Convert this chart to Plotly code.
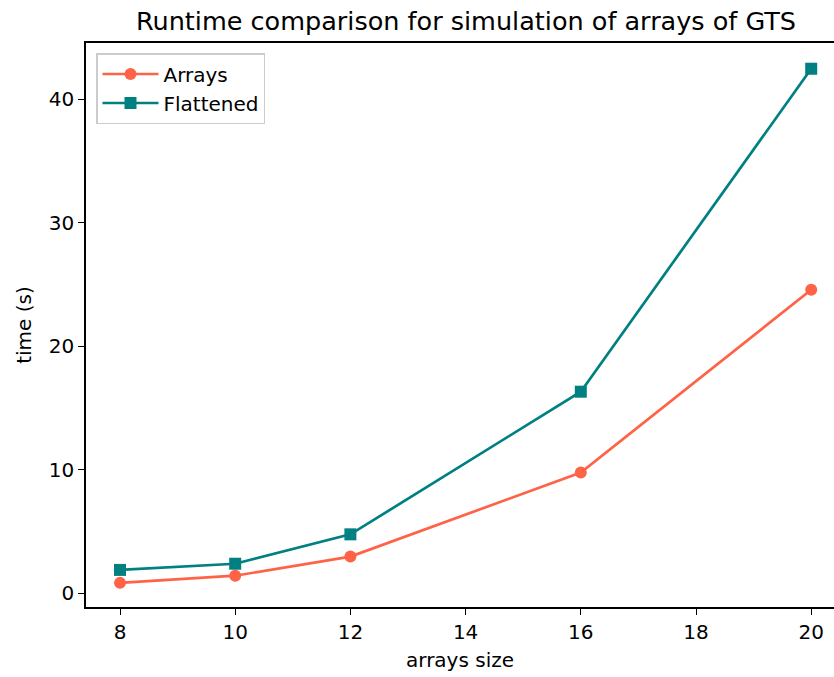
import plotly.graph_objects as go

sizes = [8, 10, 12, 16, 20]
arrays_time = [0.82, 1.40, 2.95, 9.75, 24.55]
flattened_time = [1.87, 2.37, 4.75, 16.3, 42.45]
x_ticks = [8, 10, 12, 14, 16, 18, 20]
y_ticks = [0, 10, 20, 30, 40]

FONT = "DejaVu Sans, Liberation Sans, sans-serif"

fig = go.Figure()
fig.add_trace(go.Scatter(
    x=sizes, y=arrays_time, mode="lines+markers", name="Arrays",
    line=dict(color="#FF6347", width=2.7),
    marker=dict(symbol="circle", size=12, color="#FF6347"),
))
fig.add_trace(go.Scatter(
    x=sizes, y=flattened_time, mode="lines+markers", name="Flattened",
    line=dict(color="#008080", width=2.7),
    marker=dict(symbol="square", size=12, color="#008080"),
))

fig.update_layout(
    width=834, height=677,
    margin=dict(l=86, r=0, t=43, b=70),
    paper_bgcolor="white", plot_bgcolor="white",
    font=dict(family=FONT, size=19, color="black"),
    title=dict(text="Runtime comparison for simulation of arrays of GTS",
               x=466 / 834, xanchor="center", y=1 - 21 / 677, yanchor="middle",
               font=dict(size=25.5, family=FONT, color="black")),
    showlegend=True,
    legend=dict(x=(96 - 86) / 748, y=1 - (53 - 43) / 564,
                xanchor="left", yanchor="top",
                bgcolor="rgba(255,255,255,0.8)", bordercolor="#cccccc", borderwidth=1.5,
                font=dict(size=20, family=FONT, color="black"),
                itemwidth=56, tracegroupgap=0),
)

fig.update_xaxes(
    range=[8 - 34 / 57.6, 8 + (834 - 120) / 57.6],
    tickvals=x_ticks, ticktext=[str(v) for v in x_ticks],
    tickfont=dict(size=20),
    showgrid=False, zeroline=False,
    showline=True, linecolor="black", linewidth=1.5, mirror=True,
    ticks="outside", ticklen=6, tickwidth=1.4, tickcolor="black",
    title=dict(text="arrays size", font=dict(size=20, family=FONT), standoff=10),
)
fig.update_yaxes(
    range=[-14 / 12.35, (593 - 43) / 12.35],
    tickvals=y_ticks, ticktext=[str(v) for v in y_ticks],
    tickfont=dict(size=20),
    showgrid=False, zeroline=False,
    showline=True, linecolor="black", linewidth=1.5,
    ticks="outside", ticklen=6, tickwidth=1.4, tickcolor="black",
    title=dict(text="time (s)", font=dict(size=20, family=FONT), standoff=12),
)

fig.write_html("out.html")
